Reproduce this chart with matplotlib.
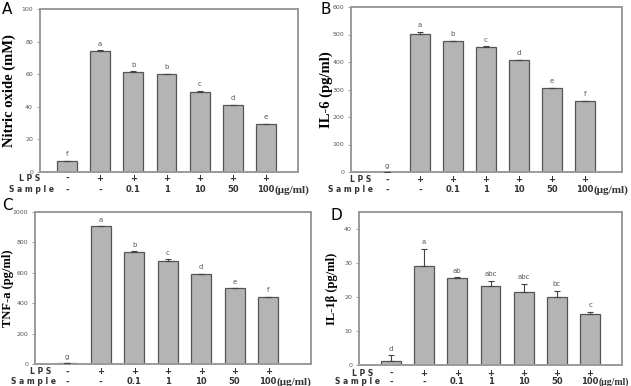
import numpy as np
import matplotlib.pyplot as plt

# data
lps = ['-', '+', '+', '+', '+', '+', '+']
sample = ['-', '-', '0.1', '1', '10', '50', '100']

no_vals = [6.5, 74, 61.5, 60, 49, 41, 29.5]
no_err = [0.3, 0.6, 0.4, 0.4, 0.8, 0.4, 0.2]
no_sig = ['f', 'a', 'b', 'b', 'c', 'd', 'e']

il6_vals = [0, 502, 476, 454, 406, 304, 257]
il6_err = [0, 8, 2, 4, 3, 3, 2]
il6_sig = ['g', 'a', 'b', 'c', 'd', 'e', 'f']

tnf_vals = [5, 905, 735, 678, 590, 497, 438]
tnf_err = [0, 2, 6, 12, 4, 2, 3]
tnf_sig = ['g', 'a', 'b', 'c', 'd', 'e', 'f']

il1b_vals = [1.2, 29.2, 25.6, 23.2, 21.4, 20.0, 15.0]
il1b_err = [1.6, 5.0, 0.2, 1.6, 2.5, 1.8, 0.7]
il1b_sig = ['d', 'a', 'ab', 'abc', 'abc', 'bc', 'c']

W, H = 631, 386
fig = plt.figure(figsize=(W / 100, H / 100), dpi=100)

GRAY = '#8c8c8c'
TXT = '#555555'


def px(x0, y0, x1, y1):
    return [x0 / W, 1 - y1 / H, (x1 - x0) / W, (y1 - y0) / H]


def panel(rect, vals, err, sig, ymax, ystep, xlim, ylabel, ysize, labx, letter, lpos, rows,
          lab_x, unit_size=8):
    ax = fig.add_axes(px(*rect))
    x = np.arange(len(vals))
    ax.bar(x, vals, width=0.6, color='#b4b4b4', edgecolor='#555555', linewidth=0.9, zorder=2)
    ax.errorbar(x, vals, yerr=[np.zeros(len(err)), err], fmt='none', ecolor='#444444',
                elinewidth=0.8, capsize=2, capthick=0.8, zorder=3)
    for xi, v, e, s in zip(x, vals, err, sig):
        ax.annotate(s, (xi, v + e), xytext=(0, 2.5), textcoords='offset points',
                    ha='center', va='bottom', fontsize=5, color=TXT)
    ax.set_xlim(*xlim)
    ax.set_ylim(0, ymax)
    ax.set_yticks(np.arange(0, ymax + 1e-9, ystep))
    ax.set_xticks([])
    ax.tick_params(axis='y', labelsize=4.5, labelcolor=TXT, color=GRAY, length=2, width=0.6, pad=3)
    for sp in ax.spines.values():
        sp.set_color('#9a9a9a')
        sp.set_linewidth(1.4)
    ax.set_ylabel(ylabel, fontfamily='Liberation Serif', fontweight='bold', fontsize=ysize)
    xsz = rect[2] - rect[0]
    # label anchor is its right edge
    ax.yaxis.set_label_coords((labx - rect[0]) / xsz, 0.5)

    tr = ax.get_xaxis_transform()
    ysz = rect[3] - rect[1]
    y1 = -rows[0] / ysz
    y2 = -rows[1] / ysz
    for xi, a, b in zip(x, lps, sample):
        ax.text(xi, y1, a, transform=tr, ha='center', va='center', fontsize=6,
                fontweight='bold', color='#333333')
        ax.text(xi, y2, b, transform=tr, ha='center', va='center', fontsize=6,
                fontweight='bold', color='#333333')
    ax.text(lab_x[0], y1, 'L P S', transform=tr, ha='center', va='center', fontsize=5.5,
            fontweight='bold', color='#333333')
    ax.text(lab_x[1], y2, 'S a m p l e', transform=tr, ha='center', va='center', fontsize=5.5,
            fontweight='bold', color='#333333')
    ax.annotate('(μg/ml)', (x[-1], y2), xycoords=tr, xytext=(6, 0), textcoords='offset points',
                ha='left', va='center', fontsize=unit_size, fontweight='bold',
                fontfamily='Liberation Serif', color='#333333')
    fig.text(lpos[0] / W, 1 - lpos[1] / H, letter, fontsize=11, ha='left', va='center')
    return ax


panel((40, 9, 298, 172), no_vals, no_err, no_sig, 100, 20, (-0.81, 6.96),
      'Nitric oxide (mM)', 10.5, 16, 'A', (2, 10), (6.5, 18), (-1.12, -1.06))
panel((351, 7, 622, 172), il6_vals, il6_err, il6_sig, 600, 100, (-1.09, 7.12),
      'IL-6 (pg/ml)', 10.5, 333, 'B', (320, 9), (8, 18), (-0.8, -1.12))
panel((35, 212, 311, 364), tnf_vals, tnf_err, tnf_sig, 1000, 200, (-0.96, 7.28),
      'TNF-a (pg/ml)', 9, 14, 'C', (2, 205), (8, 18), (-0.8, -1.0))
panel((359, 212, 622, 365), il1b_vals, il1b_err, il1b_sig, 45, 10, (-0.96, 6.96),
      'IL-1β (pg/ml)', 9, 338, 'D', (331, 216), (8, 17), (-0.84, -1.0), unit_size=7)

fig.savefig('out.png', dpi=100)
